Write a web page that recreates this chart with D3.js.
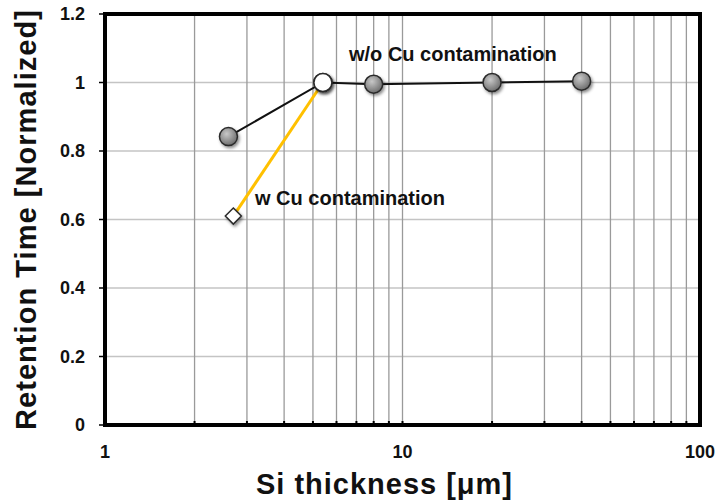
<!DOCTYPE html>
<html>
<head>
<meta charset="utf-8">
<script src="https://cdn.jsdelivr.net/npm/d3@7"></script>
<style>
  body { margin: 0; background: #fff; }
  text { font-family: Arial, "Liberation Sans", sans-serif; font-weight: bold; fill: #111; }
</style>
</head>
<body>
<svg id="chart" width="720" height="503"></svg>
<script>
// Si thickness vs normalized retention time
const thicknessNoCu = [2.6, 5.4, 8, 20, 40];
const retentionNoCu = [0.842, 1.0, 0.995, 1.0, 1.004];

const thicknessCu = [2.7, 5.4];
const retentionCu = [0.61, 1.0];
const markersCu = ['diamond', 'circle'];

const yTicks = [0, 0.2, 0.4, 0.6, 0.8, 1, 1.2];
const xTickLabels = [1, 10, 100];

const labelNoCu = 'w/o Cu contamination';
const labelCu = 'w Cu contamination';

const margin = { left: 105, right: 20, top: 14, bottom: 78 };
const width = 720;
const height = 503;

const svg = d3.select('#chart');

const x = d3.scaleLog().domain([1, 100]).range([margin.left, width - margin.right]);
const y = d3.scaleLinear().domain([0, 1.2]).range([height - margin.bottom, margin.top]);

// defs: marker gradient + shadow
const defs = svg.append('defs');
const grad = defs.append('radialGradient')
  .attr('id', 'ballGrad')
  .attr('cx', '40%').attr('cy', '35%').attr('r', '65%');
grad.append('stop').attr('offset', '0%').attr('stop-color', '#c8c8c8');
grad.append('stop').attr('offset', '100%').attr('stop-color', '#6e6e6e');

const shadow = defs.append('filter')
  .attr('id', 'shadow')
  .attr('x', '-50%').attr('y', '-50%').attr('width', '200%').attr('height', '200%');
shadow.append('feDropShadow')
  .attr('dx', 1.5).attr('dy', 2)
  .attr('stdDeviation', 1.5)
  .attr('flood-color', '#000')
  .attr('flood-opacity', 0.45);

// grid
const minorX = x.ticks().filter(v => xTickLabels.indexOf(v) < 0 || v === 10);

svg.append('g')
  .selectAll('line')
  .data(yTicks.filter(v => v > 0 && v < 1.2))
  .join('line')
  .attr('x1', x.range()[0]).attr('x2', x.range()[1])
  .attr('y1', d => y(d)).attr('y2', d => y(d))
  .style('stroke', '#c4c4c4')
  .style('stroke-width', 1.5);

svg.append('g')
  .selectAll('line')
  .data(minorX)
  .join('line')
  .attr('x1', d => x(d)).attr('x2', d => x(d))
  .attr('y1', y(0)).attr('y2', y(1.2))
  .style('stroke', '#9a9a9a')
  .style('stroke-width', 1.3);

// small inward ticks on the bottom axis
svg.append('g')
  .selectAll('line')
  .data(minorX)
  .join('line')
  .attr('x1', d => x(d)).attr('x2', d => x(d))
  .attr('y1', y(0)).attr('y2', y(0) - 4)
  .style('stroke', '#000')
  .style('stroke-width', 2);

// y ticks outward
svg.append('g')
  .selectAll('line')
  .data(yTicks)
  .join('line')
  .attr('x1', x(1) - 6).attr('x2', x(1))
  .attr('y1', d => y(d)).attr('y2', d => y(d))
  .style('stroke', '#000')
  .style('stroke-width', 1.5);

// frame
svg.append('rect')
  .attr('x', x(1)).attr('y', y(1.2))
  .attr('width', x(100) - x(1))
  .attr('height', y(0) - y(1.2))
  .style('fill', 'none')
  .style('stroke', '#000')
  .style('stroke-width', 4);

// tick labels
svg.append('g')
  .selectAll('text')
  .data(yTicks)
  .join('text')
  .attr('x', x(1) - 20)
  .attr('y', d => y(d) + 6)
  .attr('text-anchor', 'end')
  .style('font-size', '18px')
  .text(d => d);

svg.append('g')
  .selectAll('text')
  .data(xTickLabels)
  .join('text')
  .attr('x', d => x(d))
  .attr('y', y(0) + 33)
  .attr('text-anchor', 'middle')
  .style('font-size', '18px')
  .text(d => d);

// axis titles
svg.append('text')
  .attr('x', 384)
  .attr('y', 494)
  .attr('text-anchor', 'middle')
  .attr('textLength', 256)
  .style('font-size', '29px')
  .text('Si thickness [\u03bcm]');

svg.append('text')
  .attr('transform', 'translate(36, 220) rotate(-90)')
  .attr('text-anchor', 'middle')
  .attr('textLength', 420)
  .style('font-size', '29px')
  .text('Retention Time [Normalized]');

// lines
const noCu = thicknessNoCu.map((t, i) => ({ x: t, y: retentionNoCu[i] }));
const cu = thicknessCu.map((t, i) => ({ x: t, y: retentionCu[i], m: markersCu[i] }));

const line = d3.line().x(d => x(d.x)).y(d => y(d.y));

svg.append('path')
  .datum(noCu)
  .attr('d', line)
  .style('fill', 'none')
  .style('stroke', '#111')
  .style('stroke-width', 2);

svg.append('path')
  .datum(cu)
  .attr('d', line)
  .style('fill', 'none')
  .style('stroke', '#ffc000')
  .style('stroke-width', 3);

// markers
svg.append('g')
  .selectAll('circle')
  .data(noCu)
  .join('circle')
  .attr('cx', d => x(d.x))
  .attr('cy', d => y(d.y))
  .attr('r', 9)
  .attr('filter', 'url(#shadow)')
  .style('fill', 'url(#ballGrad)')
  .style('stroke', '#2a2a2a')
  .style('stroke-width', 1.5);

const cuMarks = svg.append('g')
  .selectAll('g')
  .data(cu)
  .join('g')
  .attr('transform', d => `translate(${x(d.x)}, ${y(d.y)})`)
  .attr('filter', 'url(#shadow)');

cuMarks.filter(d => d.m === 'circle')
  .append('circle')
  .attr('r', 9)
  .style('fill', '#fff')
  .style('stroke', '#2a2a2a')
  .style('stroke-width', 1.5);

cuMarks.filter(d => d.m === 'diamond')
  .append('path')
  .attr('d', 'M0,-8 L8,0 L0,8 L-8,0 Z')
  .style('fill', '#fff')
  .style('stroke', '#2a2a2a')
  .style('stroke-width', 1.5);

// annotations
svg.append('text')
  .attr('x', 349).attr('y', 61)
  .style('font-size', '20px')
  .text(labelNoCu);

svg.append('text')
  .attr('x', 255).attr('y', 205)
  .style('font-size', '20px')
  .text(labelCu);
</script>
</body>
</html>
